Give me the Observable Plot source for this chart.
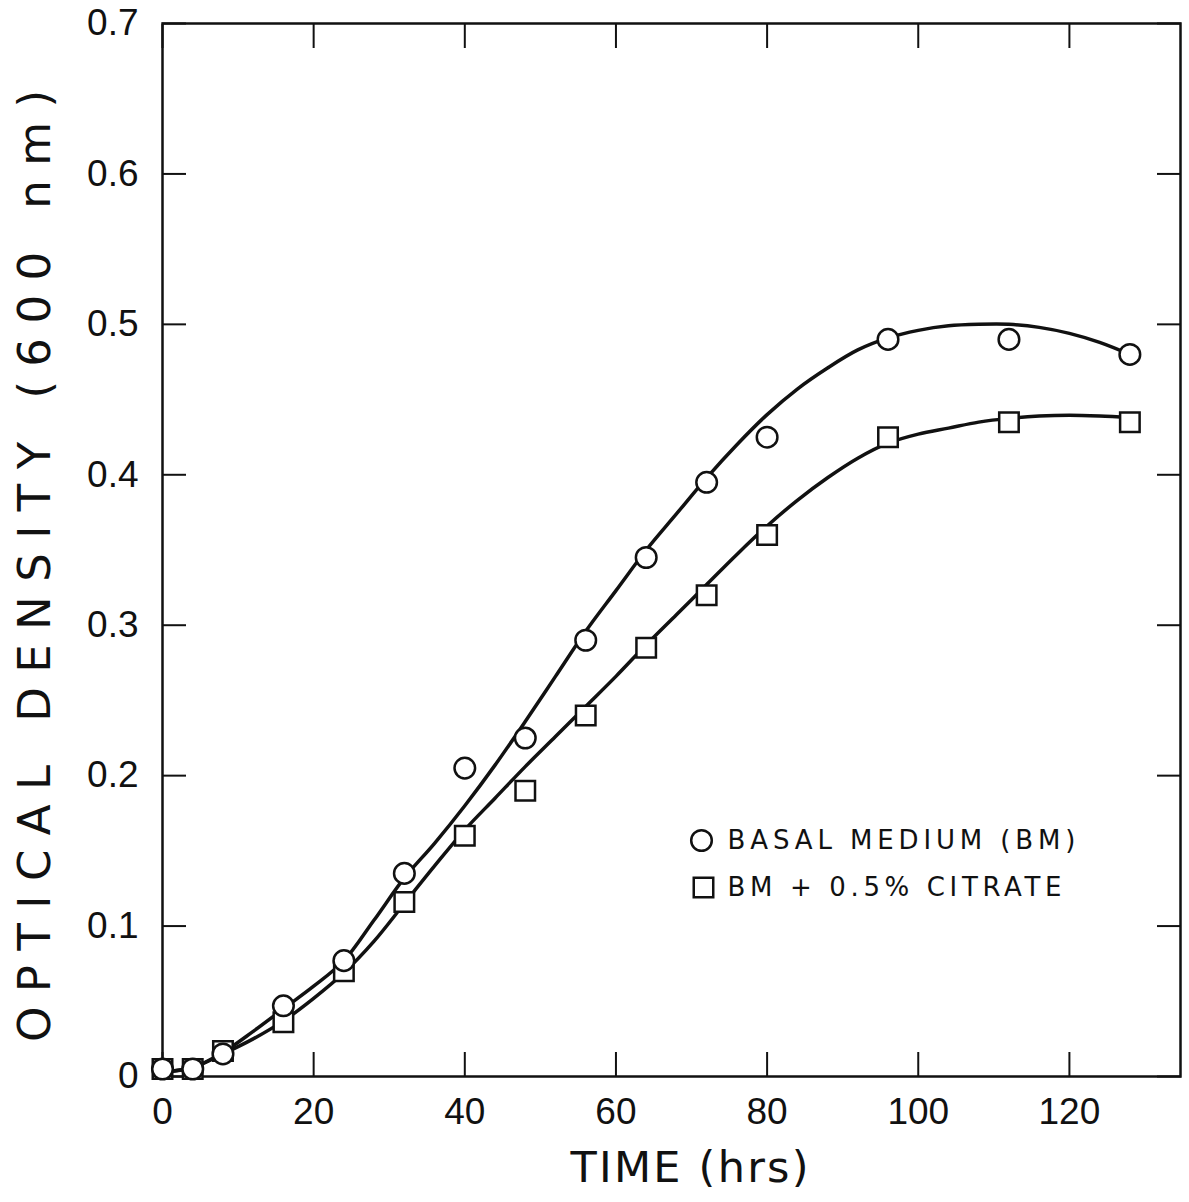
<!DOCTYPE html>
<html>
<head>
<meta charset="utf-8">
<script src="https://cdn.jsdelivr.net/npm/d3@7"></script>
<script src="https://cdn.jsdelivr.net/npm/@observablehq/plot@0.6"></script>
<style>
  html, body { margin: 0; padding: 0; background: #fff; }
</style>
</head>
<body>
<div id="chart"></div>
<script>
// ---- data ----
const hours = [0, 4, 8, 16, 24, 32, 40, 48, 56, 64, 72, 80, 96, 112, 128];
const basal = [0.005, 0.005, 0.015, 0.047, 0.077, 0.135, 0.205, 0.225, 0.29, 0.345, 0.395, 0.425, 0.49, 0.49, 0.48];
const citrate = [0.005, 0.005, 0.017, 0.036, 0.07, 0.116, 0.16, 0.19, 0.24, 0.285, 0.32, 0.36, 0.425, 0.435, 0.435];

// fitted curves
const fitHours = [0, 4, 8, 12, 16, 20, 24, 28, 32, 36, 40, 44, 48, 52, 56, 60, 64, 68, 72, 76, 80, 84, 88, 92, 96, 100, 104, 108, 112, 116, 120, 124, 128];
const basalFit = [0.003, 0.006, 0.016, 0.03, 0.045, 0.06, 0.077, 0.104, 0.132, 0.155, 0.18, 0.207, 0.236, 0.266, 0.296, 0.323, 0.35, 0.374, 0.398, 0.42, 0.44, 0.457, 0.471, 0.483, 0.491, 0.496, 0.499, 0.5, 0.5, 0.498, 0.494, 0.488, 0.48];
const citrateFit = [0.003, 0.006, 0.015, 0.025, 0.037, 0.052, 0.069, 0.09, 0.115, 0.14, 0.164, 0.185, 0.206, 0.226, 0.246, 0.266, 0.287, 0.307, 0.327, 0.347, 0.366, 0.383, 0.398, 0.411, 0.421, 0.427, 0.431, 0.435, 0.4375, 0.439, 0.4395, 0.439, 0.438];

const xTicks = [0, 20, 40, 60, 80, 100, 120];
const yTicks = [0, 0.1, 0.2, 0.3, 0.4, 0.5, 0.6, 0.7];
const seriesNames = ["BASAL MEDIUM (BM)", "BM + 0.5% CITRATE"];
const xTitle = "TIME (hrs)";
const yTitle = "OPTICAL DENSITY (600 nm)";

// ---- tables built from arrays ----
const pointsBM = hours.map((t, i) => ({t, od: basal[i]}));
const pointsCit = hours.map((t, i) => ({t, od: citrate[i]}));
const curveBM = fitHours.map((t, i) => ({t, od: basalFit[i]}));
const curveCit = fitHours.map((t, i) => ({t, od: citrateFit[i]}));

const INK = "#111";
const FONT = "Liberation Sans, Arial, sans-serif";
const TITLE_FONT = "DejaVu Sans, sans-serif";

const plot = Plot.plot({
  width: 1189,
  height: 1202,
  marginLeft: 162,
  marginRight: 9,
  marginTop: 23,
  marginBottom: 126,
  style: {fontFamily: FONT, color: INK, background: "#fff"},
  x: {domain: [0, 134.7]},
  y: {domain: [0, 0.7]},
  marks: [
    Plot.frame({stroke: INK, strokeWidth: 2.5}),
    Plot.axisX(xTicks, {anchor: "bottom", tickSize: -24, tickPadding: 45, strokeWidth: 2, fontSize: 37, label: null, tickFormat: d => String(d)}),
    Plot.axisX(xTicks, {anchor: "top", tickSize: -24, strokeWidth: 2, label: null, tickFormat: () => ""}),
    Plot.axisY(yTicks, {anchor: "left", tickSize: -24, tickPadding: 48, strokeWidth: 2, fontSize: 37, label: null, tickFormat: d => d === 0 ? "0" : d.toFixed(1)}),
    Plot.axisY(yTicks, {anchor: "right", tickSize: -24, strokeWidth: 2, label: null, tickFormat: () => ""}),
    Plot.line(curveCit, {x: "t", y: "od", curve: "catmull-rom", stroke: INK, strokeWidth: 3.5}),
    Plot.line(curveBM, {x: "t", y: "od", curve: "catmull-rom", stroke: INK, strokeWidth: 3.5}),
    Plot.dot(pointsCit, {x: "t", y: "od", symbol: "square", r: 11, fill: "#fff", stroke: INK, strokeWidth: 2.5}),
    Plot.dot(pointsBM, {x: "t", y: "od", symbol: "circle", r: 10.3, fill: "#fff", stroke: INK, strokeWidth: 2.5}),
    // legend
    Plot.dot([seriesNames[0]], {frameAnchor: "top-left", dx: 539, dy: 817, symbol: "circle", r: 10.3, fill: "#fff", stroke: INK, strokeWidth: 2.5}),
    Plot.dot([seriesNames[1]], {frameAnchor: "top-left", dx: 541, dy: 864, symbol: "square", r: 11, fill: "#fff", stroke: INK, strokeWidth: 2.5}),
    Plot.text([seriesNames[0]], {text: d => d, frameAnchor: "top-left", dx: 565, dy: 817, textAnchor: "start", lineAnchor: "middle", fontSize: 26, fontFamily: TITLE_FONT, fill: INK}),
    Plot.text([seriesNames[1]], {text: d => d, frameAnchor: "top-left", dx: 565, dy: 864, textAnchor: "start", lineAnchor: "middle", fontSize: 26, fontFamily: TITLE_FONT, fill: INK}),
    // axis titles
    Plot.text([xTitle], {text: d => d, frameAnchor: "bottom", dx: 18, dy: 92, textAnchor: "middle", lineAnchor: "middle", fontSize: 43, fontFamily: TITLE_FONT, fill: INK}),
    Plot.text([yTitle], {text: d => d, frameAnchor: "left", rotate: -90, dx: -127, dy: 16, textAnchor: "middle", lineAnchor: "middle", fontSize: 45, fontFamily: TITLE_FONT, fill: INK})
  ]
});

// stretch letter spacing of titles / legend like the lettering in the reference
const textLengths = {
  [xTitle]: 238,
  [yTitle]: 952,
  [seriesNames[0]]: 348,
  [seriesNames[1]]: 334
};
d3.select(plot).selectAll("text").each(function () {
  const L = textLengths[this.textContent];
  if (L) {
    this.setAttribute("textLength", L);
    this.setAttribute("lengthAdjust", "spacing");
  }
});

document.getElementById("chart").appendChild(plot);
</script>
</body>
</html>
